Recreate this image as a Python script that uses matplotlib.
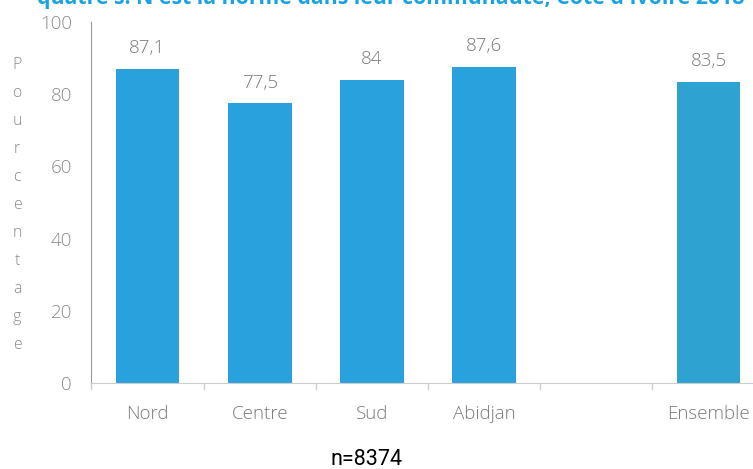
import matplotlib
matplotlib.use("Agg")
import matplotlib.pyplot as plt

categories = ["Nord", "Centre", "Sud", "Abidjan", "", "Ensemble"]
values = [87.1, 77.5, 84.0, 87.6, None, 83.5]
value_labels = ["87,1", "77,5", "84", "87,6", "", "83,5"]
yticks = [0, 20, 40, 60, 80, 100]
title = "quatre s. N est la norme dans leur communauté, Côte d'Ivoire 2018"
note = "n=8374"
ylabel = "Pourcentage"

bar_colors = ["#29a2dc", "#29a2dc", "#29a2dc", "#29a2dc", "#29a2dc", "#2ea3d2"]
gray = "#8a8a8a"

fig = plt.figure(figsize=(7.53, 4.69), dpi=100)
ax = fig.add_axes([91.4/753, (469-383)/469, (764.6-91.4)/753, (383-22)/469])

for i, (v, c) in enumerate(zip(values, bar_colors)):
    if v is None:
        continue
    ax.bar(i, v, width=0.57, color=c)
    ax.text(i, v + 3.2, value_labels[i], ha="center", va="bottom",
            fontsize=13.5, color="#7a7a7a", family="Open Sans", fontweight="light")

ax.set_xlim(-0.5, 5.5)
ax.set_ylim(0, 100)
ax.set_yticks(yticks)
ax.set_yticklabels([str(t) for t in yticks], fontsize=13.5, color=gray,
                   family="Open Sans", fontweight="light")
ax.tick_params(axis="y", length=0, pad=14)
ax.set_xticks(range(len(categories)))
ax.set_xticklabels(categories, fontsize=13.5, color="#7a7a7a", family="Open Sans",
                   fontweight="light")
ax.tick_params(axis="x", length=0, pad=16)
# boundary tick marks
for b in [k - 0.5 for k in range(7)]:
    ax.plot([b, b], [0, -1.8], color="#cccccc", lw=1, clip_on=False)

for s in ["top", "right"]:
    ax.spines[s].set_visible(False)
ax.spines["left"].set_color("#999999")
ax.spines["bottom"].set_color("#cccccc")

fig.text(17/753, 1 - 205/469, "\n".join(list(ylabel)), ha="center", va="center",
         fontsize=11.5, color=gray, family="Open Sans", fontweight="light",
         linespacing=2.0)

fig.text(37/753, 1 - 4/469, title, ha="left", va="baseline", fontsize=15.3,
         fontweight="bold", color="#1aa3e0", family="Open Sans")

fig.text(366/753, 1 - 459/469, note, ha="center", va="center", fontsize=15.5,
         color="black", family="Roboto")

fig.savefig("out.png", dpi=100)
